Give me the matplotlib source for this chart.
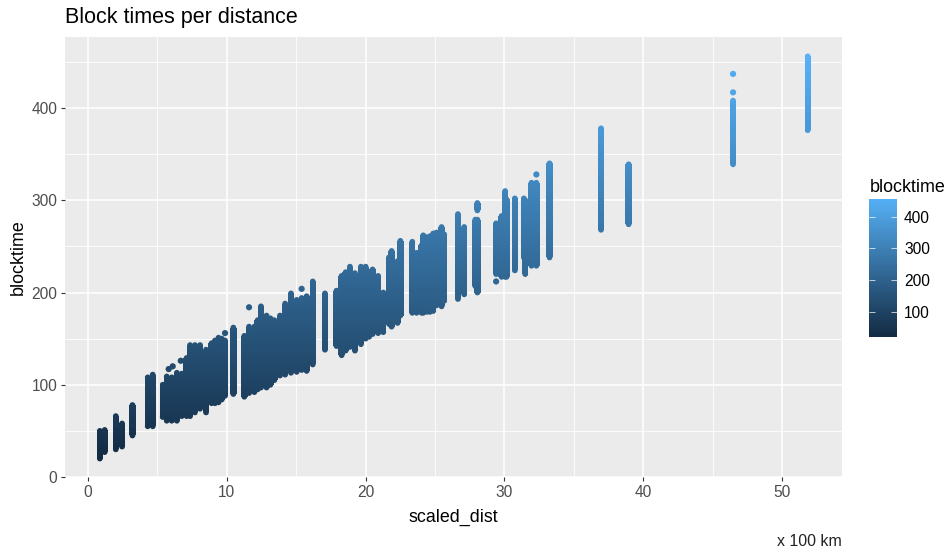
import numpy as np
import matplotlib
matplotlib.use("Agg")
import matplotlib.pyplot as plt
from matplotlib.colors import LinearSegmentedColormap, Normalize
from matplotlib.path import Path

plt.rcParams["font.family"] = ["Liberation Sans", "DejaVu Sans"]

# each strip: one distance, lowest and highest block time seen there
scaled_dist = [0.85, 1.2, 2.0, 2.45, 3.2, 4.3, 4.66, 5.38, 5.67, 6.03, 6.4, 6.75, 7.1, 7.35, 7.7, 8.07, 8.5, 8.9,
               9.15, 9.4, 9.63, 9.87, 10.47, 11.26, 11.6, 11.98, 12.22, 12.46, 12.86, 13.14, 13.42, 13.83, 14.2,
               14.62, 15.03, 15.39, 15.75, 16.19, 17.07, 17.9, 18.27, 18.56, 18.87, 19.23, 19.66, 20.0, 20.25,
               20.5, 20.9, 21.27, 21.68, 21.87, 22.3, 22.5, 23.36, 23.67, 24.03, 24.15, 24.4, 24.63, 24.87, 25.1,
               25.47, 25.66, 26.65, 27.1, 27.9, 28.05, 28.05, 29.4, 29.8, 30.05, 30.15, 30.75, 31.4, 31.5, 31.95,
               32.3, 33.25, 36.96, 38.95, 46.47, 51.85]
time_low = [20, 27, 30, 33, 45, 55, 55, 65, 61, 61, 61, 66, 66, 66, 70, 74, 70, 80,
            80, 81, 84, 88, 90, 87, 91, 92, 95, 97, 97, 100, 105, 110, 111,
            113, 114, 116, 115, 122, 138, 142, 132, 137, 141, 137, 144, 150, 152,
            155, 156, 157, 166, 163, 167, 175, 178, 178, 178, 178, 179, 179, 180, 186,
            185, 191, 193, 198, 207, 200, 289, 220, 217, 217, 217, 224, 238, 220, 229,
            229, 238, 268, 274, 339, 376]
time_high = [50, 51, 66, 58, 78, 108, 111, 100, 109, 108, 113, 112, 129, 143, 143, 143, 138, 145,
             148, 151, 150, 148, 162, 153, 163, 163, 170, 185, 175, 172, 170, 175, 188,
             199, 192, 194, 196, 212, 199, 202, 218, 222, 228, 221, 228, 228, 222,
             225, 218, 200, 238, 245, 234, 256, 255, 243, 251, 262, 260, 261, 264, 265,
             271, 263, 285, 271, 279, 279, 297, 275, 283, 310, 301, 302, 302, 300, 319,
             319, 340, 378, 339, 408, 456]

# points standing apart from their strip
single_dist = [5.81, 6.1, 6.68, 9.87, 11.6, 15.39, 29.4, 32.3, 46.47, 46.47]
single_time = [117, 120, 126, 156, 184, 204, 212, 328, 417, 437]

x_ticks = [0, 10, 20, 30, 40, 50]
y_ticks = [0, 100, 200, 300, 400]
bar_ticks = [100, 200, 300, 400]

cmap = LinearSegmentedColormap.from_list("ggblue", ["#132B43", "#56B1F7"])
norm = Normalize(20, 456)

fig = plt.figure(figsize=(9.47, 5.52), dpi=100)
W, H = 947, 552
ax = fig.add_axes([65 / W, 1 - 477 / H, 777 / W, 440 / H])
ax.set_facecolor("#EBEBEB")
for s in ax.spines.values():
    s.set_visible(False)

ax.set_xticks(x_ticks)
ax.set_yticks(y_ticks)
ax.set_xticks([5, 15, 25, 35, 45], minor=True)
ax.set_yticks([50, 150, 250, 350, 450], minor=True)
ax.grid(True, which="major", color="white", linewidth=1.1, zorder=1)
ax.grid(True, which="minor", color="white", linewidth=0.6, zorder=1)
ax.set_axisbelow(True)
ax.tick_params(which="major", length=2.6, width=0.8, color="#333333", labelcolor="#4D4D4D", labelsize=11.2, pad=3)
ax.tick_params(which="minor", length=0)

# strips are one gradient clipped to the ranges, ends and lone points are real markers
half = 0.23
rects = [Path([(d - half, lo), (d + half, lo), (d + half, hi), (d - half, hi), (d - half, lo)], closed=True)
         for d, lo, hi in zip(scaled_dist, time_low, time_high)]
grad = np.linspace(477, 0, 512).reshape(-1, 1)
im = ax.imshow(grad, cmap=cmap, norm=norm, extent=(-1.66, 54.32, 0, 477), aspect="auto", zorder=2)
im.set_clip_path(Path.make_compound_path(*rects), ax.transData)
ax.set_xlim(-1.66, 54.32)
ax.set_ylim(0, 477)

ax.scatter(scaled_dist, time_low, c=time_low, cmap=cmap, norm=norm, s=17, linewidths=0, zorder=3)
ax.scatter(scaled_dist, time_high, c=time_high, cmap=cmap, norm=norm, s=17, linewidths=0, zorder=3)
ax.scatter(single_dist, single_time, c=single_time, cmap=cmap, norm=norm, s=20, linewidths=0, zorder=3)

fig.text(65 / W, 1 - 18 / H, "Block times per distance", fontsize=15.5, color="black", va="center", ha="left")
fig.text(453 / W, 1 - 517 / H, "scaled_dist", fontsize=12.9, color="black", va="center", ha="center")
fig.text(18 / W, 1 - 257 / H, "blocktime", fontsize=12.9, color="black", va="center", ha="center", rotation=90)
fig.text(842 / W, 1 - 541 / H, "x 100 km", fontsize=11.4, color="#222222", va="center", ha="right")

# colour bar
cax = fig.add_axes([869 / W, 1 - 337 / H, 28 / W, 138 / H])
bar = np.linspace(456, 20, 256).reshape(-1, 1)
cax.imshow(bar, cmap=cmap, norm=norm, extent=(0, 1, 20, 456), aspect="auto")
for s in cax.spines.values():
    s.set_visible(False)
cax.set_xticks([])
cax.set_yticks(bar_ticks)
cax.yaxis.tick_right()
cax.tick_params(length=0, labelsize=11.2, labelcolor="black", pad=5)
cax.hlines(bar_ticks, 0, 0.2, color="white", linewidth=0.5)
cax.hlines(bar_ticks, 0.8, 1, color="white", linewidth=0.5)
cax.set_xlim(0, 1)
cax.set_ylim(20, 456)
fig.text(870 / W, 1 - 187 / H, "blocktime", fontsize=12.9, color="black", va="center", ha="left")

fig.savefig("out.png", dpi=100)
